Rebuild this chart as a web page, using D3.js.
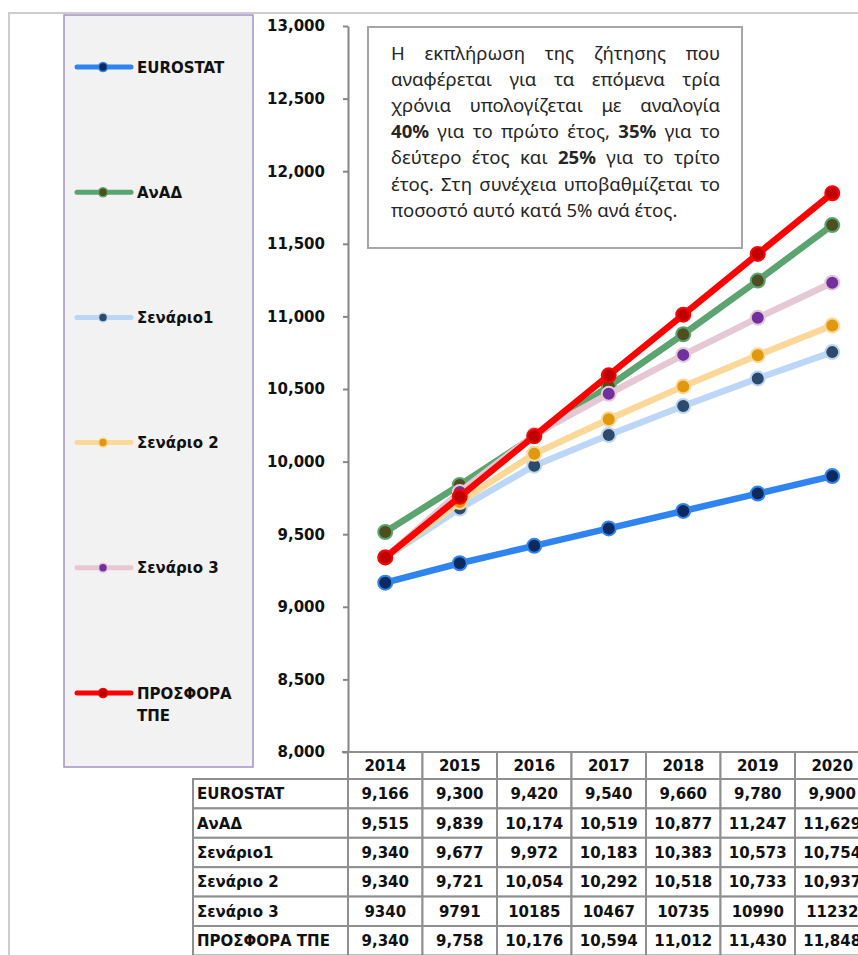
<!DOCTYPE html>
<html>
<head>
<meta charset="utf-8">
<script src="https://cdn.jsdelivr.net/npm/d3@7"></script>
<style>
  body { margin: 0; background: #fff; }
  svg { display: block; }
  .lbl { font-family: "DejaVu Sans", Verdana, sans-serif; font-weight: bold; font-size: 15px; fill: #111; }
  .note { font-family: "Noto Sans", sans-serif; font-size: 18.6px; fill: #262626; }
</style>
</head>
<body>
<div id="chart"></div>
<script>
(function () {

// ---- data ----
var years = [2014, 2015, 2016, 2017, 2018, 2019, 2020];

var seriesNames = ["EUROSTAT", "ΑνΑΔ", "Σενάριο1", "Σενάριο 2", "Σενάριο 3", "ΠΡΟΣΦΟΡΑ ΤΠΕ"];

var eurostat  = [9166, 9300, 9420, 9540, 9660, 9780, 9900];
var anad      = [9515, 9839, 10174, 10519, 10877, 11247, 11629];
var senario1  = [9340, 9677, 9972, 10183, 10383, 10573, 10754];
var senario2  = [9340, 9721, 10054, 10292, 10518, 10733, 10937];
var senario3  = [9340, 9791, 10185, 10467, 10735, 10990, 11232];
var prosfora  = [9340, 9758, 10176, 10594, 11012, 11430, 11848];

// the table prints this row without thousands separators
var plainRows = ["Σενάριο 3"];

var yTicks = [8000, 8500, 9000, 9500, 10000, 10500, 11000, 11500, 12000, 12500, 13000];

var noteLines = [
  "Η εκπλήρωση της ζήτησης που",
  "αναφέρεται για τα επόμενα τρία",
  "χρόνια υπολογίζεται με αναλογία",
  "**40%** για το πρώτο έτος, **35%** για το",
  "δεύτερο έτος και **25%** για το τρίτο",
  "έτος. Στη συνέχεια υποβαθμίζεται το",
  "ποσοστό αυτό κατά 5% ανά έτος."
];

// ---- styles ----
var lineColors   = ["#2f84f0", "#5ba36f", "#bcd6f8", "#fbd898", "#e6c8d4", "#ff0000"];
var markerColors = ["#0b2a60", "#4e4e1e", "#2c4a6a", "#e0990f", "#7030a0", "#c00000"];

var values = [eurostat, anad, senario1, senario2, senario3, prosfora];
var series = seriesNames.map(function (name, i) {
  return {
    name: name,
    line: lineColors[i],
    marker: markerColors[i],
    values: years.map(function (yr, j) { return {year: yr, value: values[i][j]}; })
  };
});

var width = 858, height = 955;
var comma = d3.format(",");

var svg = d3.select("#chart").append("svg")
    .attr("width", width)
    .attr("height", height);

// outer chart-area frame (only top & left visible)
svg.append("path")
    .attr("d", "M9," + height + "V13H" + width)
    .attr("fill", "none")
    .attr("stroke", "#cdcdcd")
    .attr("stroke-width", 2);

// legend panel
svg.append("rect")
    .attr("x", 64).attr("y", 15)
    .attr("width", 189).attr("height", 752)
    .attr("fill", "#f2f2f2")
    .attr("stroke", "#a393c9")
    .attr("stroke-width", 1.5);

var y = d3.scaleLinear()
    .domain([8000, 13000])
    .range([752, 26]);

var x = d3.scaleBand()
    .domain(years)
    .range([348, 869.5]);

var yAxis = d3.axisLeft(y)
    .tickValues(yTicks)
    .tickFormat(comma)
    .tickSize(5)
    .tickSizeOuter(0)
    .tickPadding(18);

var xAxis = d3.axisBottom(x)
    .tickSize(0)
    .tickFormat("");

var gy = svg.append("g")
    .attr("transform", "translate(348,0)")
    .call(yAxis);

gy.selectAll("text").attr("class", "lbl").attr("fill", null);

var gx = svg.append("g")
    .attr("transform", "translate(0,752)")
    .call(xAxis);

svg.selectAll(".domain, .tick line")
    .attr("stroke", "#868686")
    .attr("stroke-width", 2);

// tick at 8000 reaches under the x axis line start
gx.select(".domain").attr("d", "M342,0H" + width);

// ---- lines ----
var line = d3.line()
    .x(function (d) { return x(d.year) + x.bandwidth() / 2; })
    .y(function (d) { return y(d.value); });

var sg = svg.append("g").selectAll("g")
    .data(series)
    .enter().append("g");

sg.append("path")
    .attr("d", function (d) { return line(d.values); })
    .attr("fill", "none")
    .attr("stroke", function (d) { return d.line; })
    .attr("stroke-width", 6.5)
    .attr("stroke-linejoin", "round")
    .attr("stroke-linecap", "round");

sg.selectAll("circle")
    .data(function (d) { return d.values.map(function (v) { return {v: v, s: d}; }); })
    .enter().append("circle")
    .attr("cx", function (d) { return x(d.v.year) + x.bandwidth() / 2; })
    .attr("cy", function (d) { return y(d.v.value); })
    .attr("r", 7)
    .attr("fill", function (d) { return d.s.marker; })
    .attr("stroke", function (d) { return d.s.line; })
    .attr("stroke-width", 2);

// ---- legend ----
var lg = svg.append("g").selectAll("g")
    .data(series)
    .enter().append("g")
    .attr("transform", function (d, i) { return "translate(0," + (67 + i * 125.2) + ")"; });

lg.append("line")
    .attr("x1", 77).attr("x2", 131)
    .attr("stroke", function (d) { return d.line; })
    .attr("stroke-width", 5)
    .attr("stroke-linecap", "round");

lg.append("circle")
    .attr("cx", 103)
    .attr("r", 4.5)
    .attr("fill", function (d) { return d.marker; })
    .attr("stroke", function (d) { return d.line; })
    .attr("stroke-width", 1.5);

lg.each(function (d) {
  var t = d3.select(this).append("text")
      .attr("class", "lbl")
      .attr("x", 137)
      .attr("y", 5.5)
      .text(d.name);
  // wrap long names onto a second line
  if (t.node().getComputedTextLength() > 114 && d.name.indexOf(" ") > 0) {
    var parts = d.name.split(" ");
    t.text(parts[0]);
    d3.select(this).append("text")
        .attr("class", "lbl")
        .attr("x", 137)
        .attr("y", 27.5)
        .text(parts.slice(1).join(" "));
  }
});

// ---- note box ----
svg.append("rect")
    .attr("x", 368).attr("y", 27)
    .attr("width", 374).attr("height", 221)
    .attr("fill", "#fff")
    .attr("stroke", "#a6a6a6")
    .attr("stroke-width", 2);

var noteLeft = 391, noteRight = 720;
var ng = svg.append("g").attr("class", "note");

var probe = ng.append("text").text("x x");
var spaceW = probe.node().getComputedTextLength();
probe.text("xx");
spaceW -= probe.node().getComputedTextLength();
probe.remove();

noteLines.forEach(function (ln, li) {
  var words = ln.split(" ").map(function (w) {
    var bold = /^\*\*.*\*\*$/.test(w);
    return {text: bold ? w.slice(2, -2) : w, bold: bold};
  });
  var by = 60 + li * 26.1;
  var nodes = words.map(function (w) {
    return ng.append("text")
        .attr("y", by)
        .style("font-weight", w.bold ? "bold" : null)
        .text(w.text);
  });
  var widths = nodes.map(function (n) { return n.node().getComputedTextLength(); });
  var total = d3.sum(widths);
  var last = li === noteLines.length - 1;
  var gap = last ? spaceW : (noteRight - noteLeft - total) / (words.length - 1);
  var cx = noteLeft;
  nodes.forEach(function (n, k) {
    n.attr("x", cx);
    cx += widths[k] + gap;
  });
});

// ---- data table ----
var tg = svg.append("g");
var colLeft = 348, colW = x.step(), labelLeft = 193;
var headTop = 752, headH = 27, rowTop = 779, rowH = 29.4;
var borderColor = "#8f8f8f";

years.forEach(function (yr, j) {
  var cx0 = colLeft + j * colW;
  tg.append("rect")
      .attr("x", cx0).attr("y", headTop)
      .attr("width", colW).attr("height", headH)
      .attr("fill", "#fff")
      .attr("stroke", borderColor).attr("stroke-width", 2);
  tg.append("text")
      .attr("class", "lbl")
      .attr("x", cx0 + colW / 2)
      .attr("y", headTop + headH / 2 + 5.5)
      .attr("text-anchor", "middle")
      .text(yr);
});

series.forEach(function (s, i) {
  var ry = rowTop + i * rowH;
  tg.append("rect")
      .attr("x", labelLeft).attr("y", ry)
      .attr("width", colLeft - labelLeft).attr("height", rowH)
      .attr("fill", "#fff")
      .attr("stroke", borderColor).attr("stroke-width", 2);
  tg.append("text")
      .attr("class", "lbl")
      .attr("x", labelLeft + 4)
      .attr("y", ry + rowH / 2 + 5.5)
      .text(s.name);
  s.values.forEach(function (v, j) {
    var cx0 = colLeft + j * colW;
    tg.append("rect")
        .attr("x", cx0).attr("y", ry)
        .attr("width", colW).attr("height", rowH)
        .attr("fill", "#fff")
        .attr("stroke", borderColor).attr("stroke-width", 2);
    tg.append("text")
        .attr("class", "lbl")
        .attr("x", cx0 + colW / 2)
        .attr("y", ry + rowH / 2 + 5.5)
        .attr("text-anchor", "middle")
        .text(plainRows.indexOf(s.name) >= 0 ? String(v.value) : comma(v.value));
  });
});

})();
</script>
</body>
</html>
